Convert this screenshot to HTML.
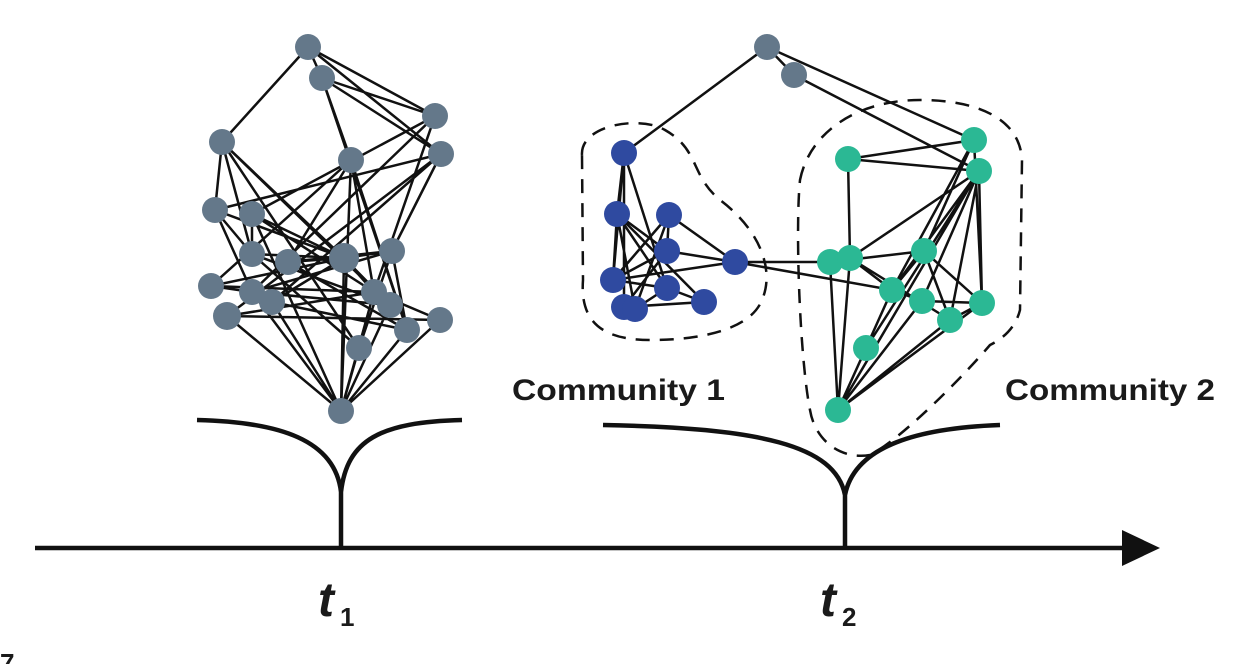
<!DOCTYPE html>
<html><head><style>body{margin:0;background:#fff}svg{display:block}</style></head><body>
<svg width="1250" height="664" viewBox="0 0 1250 664" xmlns="http://www.w3.org/2000/svg">
<g stroke="#111" stroke-width="2.5" fill="none">
<path d="M308,47L222,142M308,47L435,116M308,47L441,154M308,47L322,78M322,78L435,116M322,78L441,154M322,78L351,160M322,78L407,330
M222,142L215,210M222,142L252,254M222,142L344,258M222,142L359,348M222,142L390,305
M435,116L252,214M435,116L252,292M435,116L374,292M441,154L215,210M441,154L272,302M441,154L392,251M441,154L227,316
M351,160L341,411M351,160L288,262M351,160L407,330M351,160L211,286M351,160L374,292
M215,210L252,254M215,210L344,258M215,210L252,292M252,214L344,258M252,214L374,292M252,214L341,411M252,214L252,254
M252,254L344,258M252,254L390,305M252,254L359,348M288,262L392,251M288,262L344,258M288,262L407,330
M344,258L392,251M344,258L211,286M344,258L272,302M344,258L374,292M344,258L341,411M344,258L390,305
M392,251L407,330M392,251L359,348M392,251L252,292
M211,286L374,292M211,286L252,292M252,292L390,305M272,302L407,330M227,316L440,320M227,316L341,411M227,316L374,292
M252,292L341,411M272,302L341,411M374,292L341,411M390,305L341,411M407,330L341,411M440,320L341,411M359,348L341,411M440,320L374,292"/>
<path d="M767,47L624,153M767,47L974,140M767,47L794,75M794,75L979,171
M624,153L617,214M624,153L613,280M624,153L667,288M624,153L624,307M617,214L613,280M617,214L667,288M617,214L704,302M617,214L635,309M617,214L667,251
M669,215L613,280M669,215L667,251M669,215L735,262M669,215L635,309M667,251L735,262M667,251L613,280M667,251L624,307M613,280L735,262M613,280L667,288M624,307L704,302M635,309L667,288M667,288L704,302
M735,262L830,262M735,262L892,290
M848,159L974,140M848,159L979,171M848,159L850,258M850,258L979,171M830,262L924,251M850,258L892,290M830,262L838,410M850,258L838,410M850,258L950,320
M974,140L924,251M974,140L892,290M979,171L892,290M979,171L922,301M979,171L950,320M979,171L982,303M974,140L982,303M979,171L866,348M979,171L838,410
M924,251L892,290M924,251L982,303M924,251L950,320M892,290L922,301M922,301L982,303M950,320L982,303M892,290L866,348M866,348L838,410M922,301L838,410M950,320L838,410M982,303L838,410"/>
</g>
<g fill="#64788a">
<circle cx="308" cy="47" r="13"/><circle cx="322" cy="78" r="13"/><circle cx="435" cy="116" r="13"/><circle cx="441" cy="154" r="13"/><circle cx="222" cy="142" r="13"/><circle cx="351" cy="160" r="13"/><circle cx="215" cy="210" r="13"/><circle cx="252" cy="214" r="13"/><circle cx="252" cy="254" r="13"/><circle cx="288" cy="262" r="13"/><circle cx="344" cy="258" r="15"/><circle cx="392" cy="251" r="13"/><circle cx="211" cy="286" r="13"/><circle cx="252" cy="292" r="13"/><circle cx="272" cy="302" r="13"/><circle cx="227" cy="316" r="14"/><circle cx="374" cy="292" r="13"/><circle cx="390" cy="305" r="13"/><circle cx="407" cy="330" r="13"/><circle cx="440" cy="320" r="13"/><circle cx="359" cy="348" r="13"/><circle cx="341" cy="411" r="13"/>
<circle cx="767" cy="47" r="13"/><circle cx="794" cy="75" r="13"/>
</g>
<g fill="#2f4aa0">
<circle cx="624" cy="153" r="13"/><circle cx="617" cy="214" r="13"/><circle cx="669" cy="215" r="13"/><circle cx="667" cy="251" r="13"/><circle cx="735" cy="262" r="13"/><circle cx="613" cy="280" r="13"/><circle cx="667" cy="288" r="13"/><circle cx="624" cy="307" r="13"/><circle cx="635" cy="309" r="13"/><circle cx="704" cy="302" r="13"/>
</g>
<g fill="#2bb894">
<circle cx="848" cy="159" r="13"/><circle cx="974" cy="140" r="13"/><circle cx="979" cy="171" r="13"/><circle cx="830" cy="262" r="13"/><circle cx="850" cy="258" r="13"/><circle cx="924" cy="251" r="13"/><circle cx="892" cy="290" r="13"/><circle cx="922" cy="301" r="13"/><circle cx="950" cy="320" r="13"/><circle cx="982" cy="303" r="13"/><circle cx="866" cy="348" r="13"/><circle cx="838" cy="410" r="13"/>
</g>
<g stroke="#111" stroke-width="2.5" fill="none" stroke-dasharray="14,10">
<path d="M582,155C580,125 640,115 665,130C700,150 690,175 720,200C760,230 775,270 762,300C750,330 700,340 650,340C600,340 580,320 583,280Z"/>
<path d="M800,180C810,130 860,100 920,100C980,100 1020,120 1022,160L1020,310C1015,330 1000,340 990,345C960,380 900,440 870,455C840,460 815,440 810,410C800,360 795,230 800,180Z"/>
</g>
<g stroke="#111" stroke-width="4.5" fill="none">
<path d="M197,420C280,422 335,440 341,492M462,420C380,422 347,440 341,492M341,490L341,548"/>
<path d="M603,425C760,428 835,445 845,495M1000,425C920,428 855,445 845,495M845,492L845,548"/>
<path d="M35,548L1130,548"/>
</g>
<polygon points="1122,530 1160,548 1122,566" fill="#111"/>
<g font-family="Liberation Sans, sans-serif" font-weight="bold" fill="#1a1a1a">
<text x="512" y="400" font-size="30" textLength="213" lengthAdjust="spacingAndGlyphs">Community 1</text>
<text x="1005" y="400" font-size="30" textLength="210" lengthAdjust="spacingAndGlyphs">Community 2</text>
<text x="318" y="616" font-size="48" font-style="italic">t</text>
<text x="340" y="626" font-size="26">1</text>
<text x="820" y="616" font-size="48" font-style="italic">t</text>
<text x="842" y="626" font-size="26">2</text>
<text x="0" y="672" font-size="26">7</text>
</g>
</svg>
</body></html>
